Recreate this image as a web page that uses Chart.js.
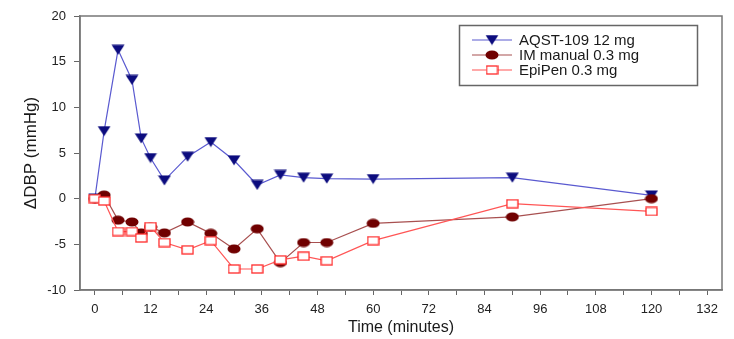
<!DOCTYPE html>
<html>
<head>
<meta charset="utf-8">
<script src="https://cdn.jsdelivr.net/npm/chart.js@4/dist/chart.umd.min.js"></script>
<style>
  html, body { margin: 0; padding: 0; background: #fff; }
  #wrap { width: 734px; height: 339px; position: relative; }
</style>
</head>
<body>
<div id="wrap"><canvas id="dbpChart"></canvas></div>
<script>
const timePoints = [0, 2, 5, 8, 10, 12, 15, 20, 25, 30, 35, 40, 45, 50, 60, 90, 120];
const aqstValues = [0, 7.4, 16.3, 13.0, 6.6, 4.45, 2.0, 4.6, 6.2, 4.2, 1.5, 2.6, 2.3, 2.2, 2.15, 2.3, 0.35];
const imValues = [0, 0.4, -2.35, -2.55, -3.75, -3.1, -3.75, -2.55, -3.8, -5.5, -3.3, -7.0, -4.8, -4.8, -2.7, -2.0, 0.0];
const epiValues = [0, -0.25, -3.6, -3.6, -4.3, -3.05, -4.8, -5.6, -4.6, -7.7, -7.7, -6.7, -6.3, -6.8, -4.6, -0.55, -1.4];
const seriesLabels = ["AQST-109 12 mg", "IM manual 0.3 mg", "EpiPen 0.3 mg"];
const xTickValues = [0, 12, 24, 36, 48, 60, 72, 84, 96, 108, 120, 132];

const FONT = "'Liberation Sans', Arial, sans-serif";

// marker images (the reference markers are a bit wider than tall)
function makeMarker(w, h, draw) {
  const c = document.createElement("canvas");
  c.width = w;
  c.height = h;
  draw(c.getContext("2d"), w, h);
  return c;
}

const triMarker = makeMarker(14, 11, (ctx, w, h) => {
  ctx.fillStyle = "#0c0c7e";
  ctx.beginPath();
  ctx.moveTo(0.5, 0.5);
  ctx.lineTo(w - 0.5, 0.5);
  ctx.lineTo(w / 2, h - 0.5);
  ctx.closePath();
  ctx.fill();
});

const dotMarker = makeMarker(14, 10, (ctx, w, h) => {
  ctx.fillStyle = "#700000";
  ctx.beginPath();
  ctx.ellipse(w / 2, h / 2, w / 2 - 0.5, h / 2 - 0.5, 0, 0, Math.PI * 2);
  ctx.fill();
});

const boxMarker = makeMarker(13, 10, (ctx, w, h) => {
  ctx.fillStyle = "#fff";
  ctx.strokeStyle = "#ff2a2a";
  ctx.lineWidth = 1.3;
  ctx.fillRect(1, 1, w - 2, h - 2);
  ctx.strokeRect(1, 1, w - 2, h - 2);
});

const lineColors = ["#5a5ad0", "#a85050", "#ff5555"];
const markers = [triMarker, dotMarker, boxMarker];

function toPoints(values) {
  return timePoints.map((t, i) => ({ x: t, y: values[i] }));
}

// frame around the plot + legend box inside the plot
const framePlugin = {
  id: "frame",
  afterDraw(chart) {
    const { ctx, chartArea } = chart;
    ctx.save();
    ctx.strokeStyle = "#777";
    ctx.lineWidth = 1.5;
    ctx.strokeRect(chartArea.left, chartArea.top, chartArea.width, chartArea.height);

    // legend
    const bx = 459.5, by = 25.5, bw = 238, bh = 60;
    ctx.fillStyle = "#fff";
    ctx.fillRect(bx, by, bw, bh);
    ctx.strokeStyle = "#666";
    ctx.lineWidth = 1.5;
    ctx.strokeRect(bx, by, bw, bh);

    const rowsY = [40, 55, 70];
    ctx.font = "15px " + FONT;
    ctx.textBaseline = "middle";
    seriesLabels.forEach((label, i) => {
      const y = rowsY[i];
      ctx.strokeStyle = lineColors[i];
      ctx.lineWidth = 1.2;
      ctx.beginPath();
      ctx.moveTo(472, y);
      ctx.lineTo(512, y);
      ctx.stroke();
      const m = markers[i];
      ctx.drawImage(m, 492 - m.width / 2, y - m.height / 2);
      ctx.fillStyle = "#1a1a1a";
      ctx.fillText(label, 519, y + 1);
    });
    ctx.restore();
  },
};

const ctx = document.getElementById("dbpChart").getContext("2d");

new Chart(ctx, {
  type: "line",
  data: {
    datasets: [
      {
        label: seriesLabels[0],
        data: toPoints(aqstValues),
        borderColor: lineColors[0],
        borderWidth: 1.2,
        pointStyle: triMarker,
        pointRadius: 6,
        order: 2,
      },
      {
        label: seriesLabels[1],
        data: toPoints(imValues),
        borderColor: lineColors[1],
        borderWidth: 1.2,
        pointStyle: dotMarker,
        pointRadius: 6,
        order: 1,
      },
      {
        label: seriesLabels[2],
        data: toPoints(epiValues),
        borderColor: lineColors[2],
        borderWidth: 1.2,
        pointStyle: boxMarker,
        pointRadius: 6,
        order: 0,
      },
    ],
  },
  options: {
    responsive: true,
    maintainAspectRatio: false,
    animation: false,
    layout: { padding: { top: 16, right: 12, left: 0, bottom: 0 } },
    plugins: {
      legend: { display: false },
      tooltip: { enabled: false },
    },
    scales: {
      x: {
        type: "linear",
        min: -3.2,
        max: 135.2,
        afterFit: (scale) => { scale.height = 49; },
        afterBuildTicks: (scale) => {
          const t = [];
          for (let v = 0; v <= 132; v += 6) t.push({ value: v });
          scale.ticks = t;
        },
        ticks: {
          autoSkip: false,
          maxRotation: 0,
          padding: 7,
          color: "#222",
          font: { family: FONT, size: 13 },
          callback: (v) => (xTickValues.includes(v) ? String(v) : ""),
        },
        grid: {
          drawOnChartArea: false,
          drawTicks: true,
          tickLength: 5,
          color: "#666",
        },
        border: { color: "#777", width: 1.5 },
        title: {
          display: true,
          text: "Time (minutes)",
          color: "#1a1a1a",
          font: { family: FONT, size: 16 },
          padding: { top: 0, bottom: 2 },
        },
      },
      y: {
        min: -10,
        max: 20,
        afterFit: (scale) => { scale.width = 80; },
        ticks: {
          stepSize: 5,
          padding: 8,
          color: "#222",
          font: { family: FONT, size: 13 },
        },
        grid: {
          drawOnChartArea: false,
          drawTicks: true,
          tickLength: 6,
          color: "#666",
        },
        border: { color: "#777", width: 1.5 },
        title: {
          display: true,
          text: "ΔDBP (mmHg)",
          color: "#1a1a1a",
          font: { family: FONT, size: 17 },
          padding: { top: 21, bottom: 0 },
        },
      },
    },
  },
  plugins: [framePlugin],
});
</script>
</body>
</html>
